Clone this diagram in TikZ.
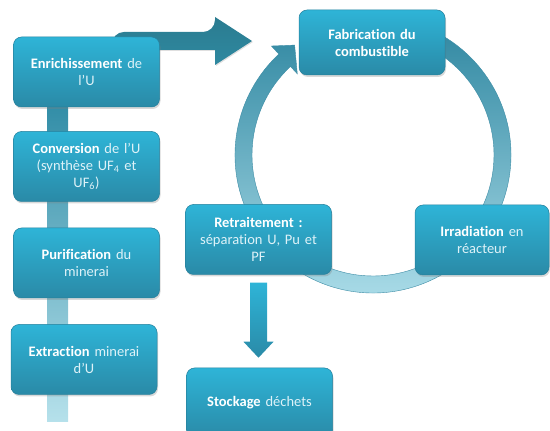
\documentclass[tikz,border=0pt]{standalone}
\usepackage{fontspec}
\setmainfont[Ligatures=NoCommon]{Carlito}
\usepackage{xcolor}
\usetikzlibrary{positioning,calc,shadows}
\definecolor{boxtop}{RGB}{46,180,215}
\definecolor{boxbot}{RGB}{42,138,167}
\definecolor{boxedge}{RGB}{38,128,156}
\definecolor{textlite}{RGB}{222,242,248}
\definecolor{ringtop}{RGB}{46,134,160}
\definecolor{ringbot}{RGB}{172,221,233}
\definecolor{ringedge}{RGB}{60,140,165}
\definecolor{bartop}{RGB}{48,140,166}
\definecolor{barbot}{RGB}{182,225,235}
\definecolor{bigarrow}{RGB}{47,137,160}
\newcommand{\regtxt}[1]{\textcolor{textlite}{#1}}
\tikzset{
stage/.style={rectangle, rounded corners=8pt, top color=boxtop, bottom color=boxbot,
  draw=boxedge, line width=0.5pt, text width=130pt, inner sep=8pt, minimum height=70pt,
  align=center, text=white, font=\fontsize{14.5}{17}\selectfont,
  drop shadow={shadow xshift=1pt, shadow yshift=-2pt, opacity=0.3}},
}
\begin{document}
\begin{tikzpicture}[x=1pt,y=1pt]
\useasboundingbox (0,0) rectangle (550,431);
% vertical bar of the left column
\shade[top color=bartop, bottom color=barbot] (47,9) rectangle (68,331);
% big arrow towards the cycle
\shade[top color=bigarrow!90!black, bottom color=bigarrow, drop shadow={shadow xshift=1pt, shadow yshift=-1pt, opacity=0.25}]
 (112,381) {[rounded corners=12pt] -- (112,399) -- (215,399)} -- (215,414) -- (252,390) -- (215,366) -- (215,381) -- cycle;
% cycle ring
\begin{scope}[shift={(373,276)}]
\shade[top color=ringtop, bottom color=ringbot, draw=ringedge, line width=0.4pt]
 (80:138pt) arc[start angle=80, end angle=-227, radius=138pt] -- (133:149pt) -- (125.5:135pt)
 -- (133:111pt) -- (133:121pt) arc[start angle=-227, end angle=80, radius=121pt] -- cycle;
\end{scope}
% left column
\node[stage] (enr) at (86.5,359) {\textbf{Enrichissement} \regtxt{de}\\ \regtxt{l’U}};
\node[stage, below=24pt of enr] (conv) {\textbf{Conversion} \regtxt{de l’U}\\ \regtxt{(synthèse UF\textsubscript{4} et}\\ \regtxt{UF\textsubscript{6})}};
\node[stage, below=26pt of conv] (puri) {\textbf{Purification} \regtxt{du}\\ \regtxt{minerai}};
\node[stage, below=26pt of puri, xshift=-2.5pt] (extr) {\textbf{Extraction} \regtxt{minerai}\\ \regtxt{d’U}};
% cycle
\node[stage, minimum height=65pt] (fab) at (372,388.5) {\textbf{Fabrication du}\\ \textbf{combustible}};
\node[stage, text width=118pt] (irr) at (482,191) {\textbf{Irradiation} \regtxt{en}\\ \regtxt{réacteur}};
\node[stage] (retr) at (258.5,191.5) {\textbf{Retraitement :}\\ \regtxt{séparation U, Pu et}\\ \regtxt{PF}};
\node[stage] (stock) at (259.5,28) {\textbf{Stockage} \regtxt{déchets}};
% down arrow
\coordinate (dn) at (retr.south |- stock.north);
\shade[top color=boxtop, bottom color=boxbot]
 ($(retr.south)+(-8.5,-8)$) -- ($(retr.south)+(8.5,-8)$) -- ($(dn)+(8.5,26)$) -- ($(dn)+(15,26)$)
 -- ($(dn)+(0,10)$) -- ($(dn)+(-15,26)$) -- ($(dn)+(-8.5,26)$) -- cycle;
\end{tikzpicture}
\end{document}
